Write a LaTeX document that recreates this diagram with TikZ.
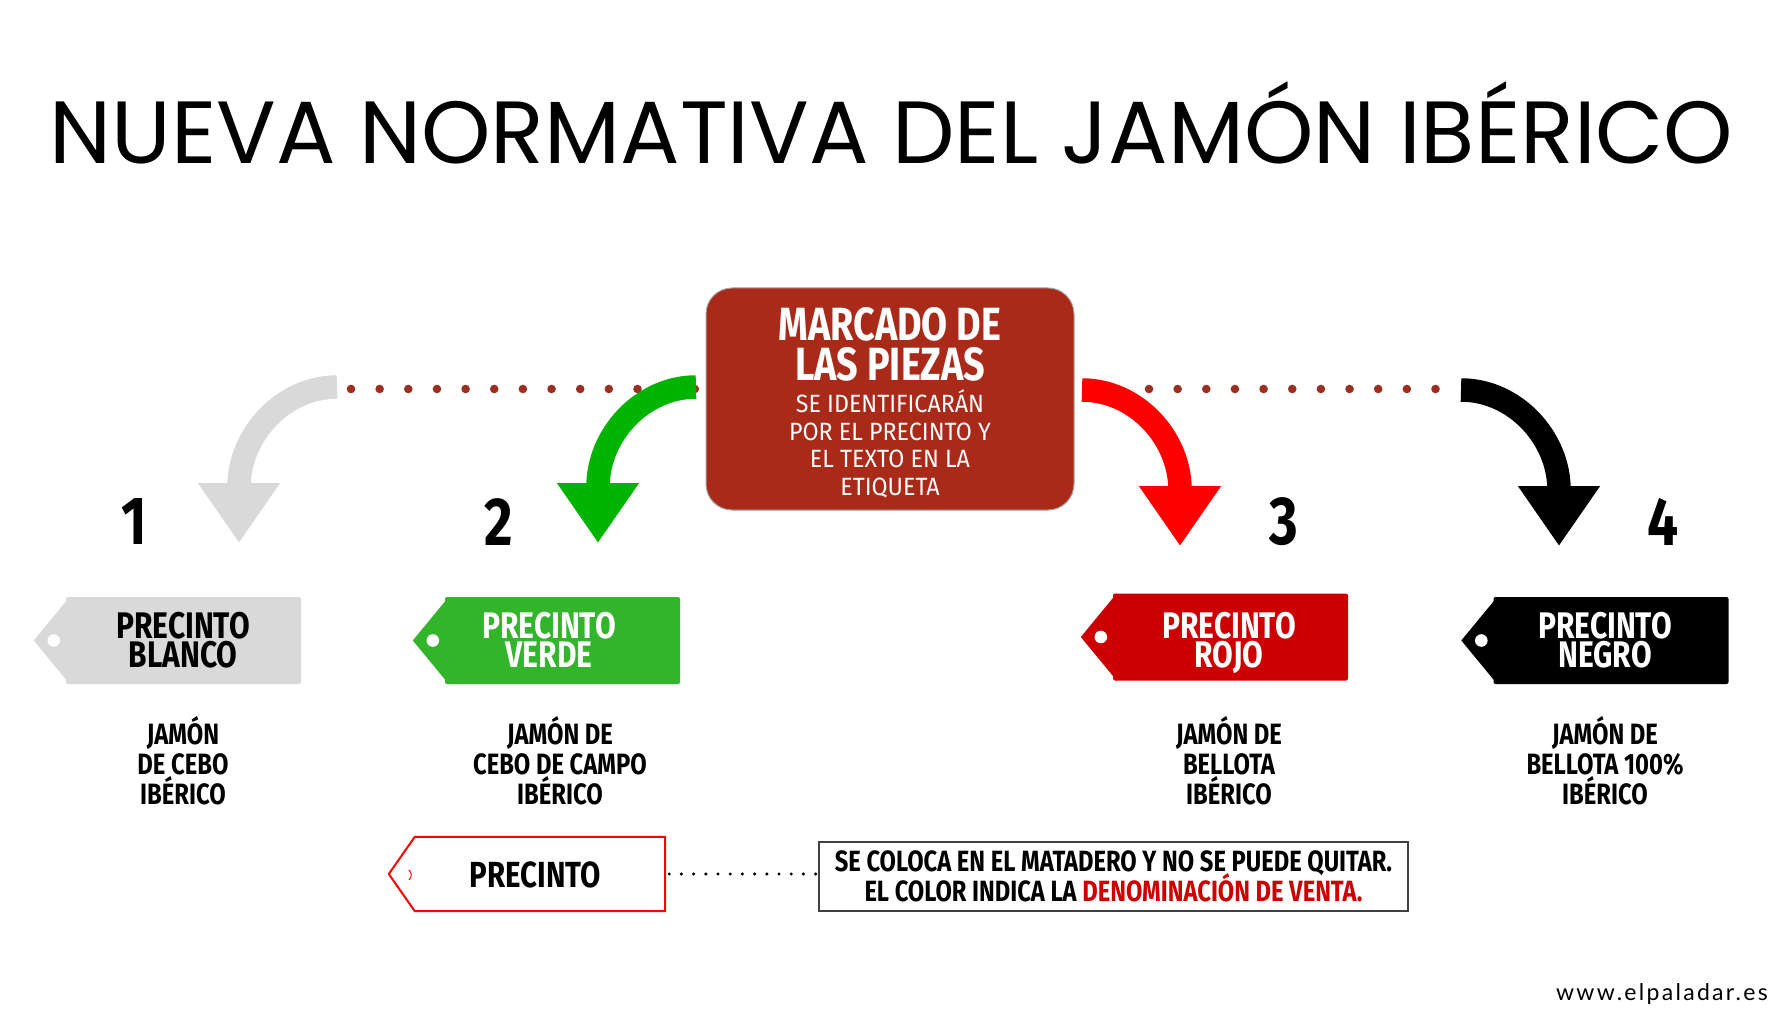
\documentclass[tikz,border=0pt]{standalone}
\usepackage{fontspec}
\usepackage{tikz}
\usetikzlibrary{arrows.meta,positioning}
\setmainfont{Poppins}
\newfontfamily\cond[FakeStretch=0.81]{Fira Sans}
\newfontfamily\condm[FakeStretch=0.93]{Fira Sans}
\newfontfamily\webfont[LetterSpace=10]{Lato}
\def\notafont{\cond\bfseries\fontsize{29.3}{30}\selectfont\setlength{\lineskiplimit}{-20pt}}
\definecolor{ladrillo}{HTML}{A92A19}
\definecolor{punto}{HTML}{9B3022}
\definecolor{gris}{HTML}{D9D9D9}
\definecolor{verdefl}{HTML}{00B400}
\definecolor{verdetag}{HTML}{33B52B}
\definecolor{rojofl}{HTML}{FF0000}
\definecolor{rojotag}{HTML}{CC0000}
\tikzset{
  titulo/.style={inner sep=0pt,font=\fontsize{88.3}{88}\selectfont},
  puntos/.style={punto,line width=8.6pt,line cap=round,dash pattern=on 0pt off 28.65pt},
  flecha/.style={line width=23.5pt,-{Triangle[length=60pt,width=78pt]}},
  precinto/.style={minimum width=235pt,minimum height=87pt,inner sep=0pt,rounded corners=2pt},
  textotag/.style={inner sep=0pt,align=center,text depth=0pt,font=\cond\bfseries\fontsize{37}{29}\selectfont},
  numero/.style={inner sep=0pt,font=\cond\bfseries\fontsize{68}{68}\selectfont},
  etiqueta/.style={inner sep=0pt,align=center,font=\cond\bfseries\fontsize{29.4}{30}\selectfont}
}
\begin{document}
\begin{tikzpicture}[x=1pt,y=-1pt]
  \useasboundingbox (0,0) rectangle (1792,1024);
  \node[titulo] (title) at (891.5,123) {NUEVA NORMATIVA DEL JAMÓN IBÉRICO};
  % lineas de puntos
  \coordinate (p1) at (351,389);
  \coordinate (p2) at (700,389);
  \coordinate (p3) at (1149,389);
  \coordinate (p4) at (1438,389);
  \draw[puntos] (p1) -- (p2);
  \draw[puntos] (p3) -- (p4);
  \node[fill=ladrillo,draw=gray!70,line width=1pt,rounded corners=26pt,minimum width=368pt,minimum height=222pt,
    inner sep=0pt] (marcado) at (890,399) {};
  \node[white,inner sep=0pt,align=center,font=\cond\bfseries\fontsize{46.6}{40}\selectfont,anchor=north]
    (marcadotit) at (890,307) {MARCADO DE\\LAS PIEZAS};
  \node[white,inner sep=0pt,align=center,font=\condm\fontsize{25}{27.5}\selectfont,below=8.5pt of marcadotit]
    (marcadotxt) {SE IDENTIFICARÁN\\POR EL PRECINTO Y\\EL TEXTO EN LA\\ETIQUETA};
  % flechas curvas
  \coordinate (a1) at (337,387);
  \coordinate (b1) at (239,543);
  \coordinate (a2) at (696,387);
  \coordinate (b2) at (598,543);
  \coordinate (a3) at (1082,390);
  \coordinate (b3) at (1180,546);
  \coordinate (a4) at (1461,390);
  \coordinate (b4) at (1559,546);
  \draw[flecha,gris] (a1) .. controls (283,387) and (239,435) .. (b1);
  \draw[flecha,verdefl] (a2) .. controls (642,387) and (598,435) .. (b2);
  \draw[flecha,rojofl] (a3) .. controls (1136,390) and (1180,438) .. (b3);
  \draw[flecha,black] (a4) .. controls (1515,390) and (1559,438) .. (b4);
  \node[numero] (n1) at (134,522) {1};
  \node[numero] (n2) at (499,522) {2};
  \node[numero] (n3) at (1284,522) {3};
  \node[numero] (n4) at (1663,522) {4};
  % precintos de color
  \foreach \nom/\px/\py/\col/\tcol/\tx/\txt/\lx/\lab in {
    blanco/183.5/640.5/gris/black/183/{PRECINTO\\BLANCO}/183/{JAMÓN\\DE CEBO\\IBÉRICO},
    verde/562.5/640.5/verdetag/white/549/{PRECINTO\\VERDE}/560/{JAMÓN DE\\CEBO DE CAMPO\\IBÉRICO},
    rojo/1230.5/637/rojotag/white/1229/{PRECINTO\\ROJO}/1229/{JAMÓN DE\\BELLOTA\\IBÉRICO},
    negro/1611/640.5/black/white/1605/{PRECINTO\\NEGRO}/1605/{JAMÓN DE\\BELLOTA 100\%\\IBÉRICO}} {
    \node[precinto,fill=\col] (\nom) at (\px,\py) {};
    \fill[\col] ([xshift=4pt]\nom.north west) -- ([xshift=-32pt]\nom.west) -- ([xshift=4pt]\nom.south west) -- cycle;
    \fill[white] ([xshift=-12pt]\nom.west) circle (6.3);
    \node[textotag,text=\tcol] (txt\nom) at (\tx,639.5) {\txt};
    \node[etiqueta] (lab\nom) at (\lx,761) {\lab};
  }
  % leyenda
  \node[minimum width=250pt,minimum height=74pt,inner sep=0pt] (muestra) at (540,874) {};
  \node[inner sep=0pt,font=\cond\bfseries\fontsize{36.3}{38}\selectfont] (muestratxt) at (535.5,875) {PRECINTO};
  \draw[rojofl,line width=2pt] (muestra.north west) -- (muestra.north east) -- (muestra.south east)
    -- (muestra.south west) -- ([xshift=-26pt]muestra.west) -- cycle;
  \draw[rojofl,line width=1pt] (409,870) .. controls (412,873) and (412,877) .. (409,880);
  \node[draw=black!75,line width=1.3pt,minimum width=589pt,minimum height=69pt,inner sep=0pt,align=center,
    font=\notafont] (nota) at (1113.5,876.5)
    {SE COLOCA EN EL MATADERO Y NO SE PUEDE QUITAR.\\EL COLOR INDICA LA \textcolor{rojotag}{DENOMINACIÓN DE VENTA.}};
  \draw[line width=3.4pt,line cap=round,dash pattern=on 0pt off 12.2pt,shorten <=4pt,shorten >=1pt]
    (muestra.east) -- (nota.west |- muestra.east);
  \node[inner sep=0pt,anchor=base east,font=\webfont\fontsize{23}{24}\selectfont] (web) at (1768,1000.5) {www.elpaladar.es};
\end{tikzpicture}
\end{document}
